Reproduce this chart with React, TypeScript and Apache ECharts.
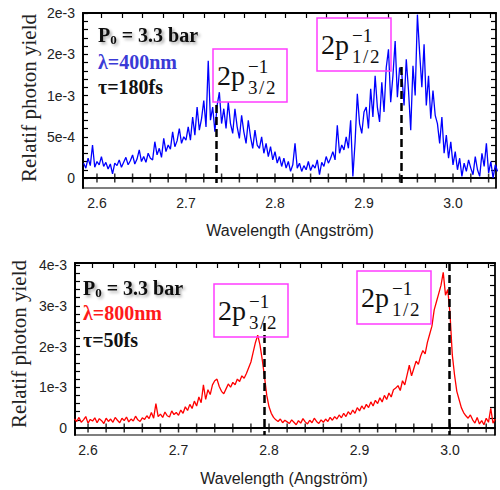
import React, { useEffect, useRef } from 'react';
import * as echarts from 'echarts';

// ---- data (yield values in units of 1e-4) ----
const wavelengthStart = 2.585;
const wavelengthStep = 0.0025;

const blueYield = [
  1.8, 1.2, 2.4, 1.5, 4.0, 1.3, 2.0, 1.6, 2.6, 1.4, 1.9, 1.1, 1.7, 0.5, 1.8,
  1.5, 2.2, 1.3, 1.9, 2.5, 1.6, 2.1, 2.8, 1.7, 2.3, 3.4, 2.0, 2.6, 1.9, 3.0, 2.4,
  2.2, 4.4, 2.8, 3.6, 2.5, 4.8, 3.2, 4.0, 3.5, 5.6, 3.8, 4.5, 6.0, 4.2, 5.0, 4.6,
  6.2, 4.6, 7.4, 5.2, 8.6, 5.8, 7.2, 9.4, 6.2, 14.2, 7.0, 8.6, 5.6, 8.8, 10.4, 6.6,
  8.4, 6.0, 9.2, 6.6, 5.4, 8.4, 6.2, 4.8, 7.6, 5.6, 4.2, 7.0, 5.0, 3.6, 5.8, 4.0,
  3.6, 5.0, 3.0, 4.2, 2.6, 3.8, 2.2, 3.2, 1.8, 2.6, 1.4, 2.4, 1.2, 2.0, 0.8, 1.6,
  4.2, 1.2, 1.8, 0.8, 1.5, 1.0, 2.0, 0.9, 1.6, 1.2, 2.2, 0.4, 1.9, 1.4, 2.6, 1.8,
  2.4, 3.2, 2.2, 6.4, 3.0, 4.0, 3.4, 5.0, 3.6, 7.0, 0.2, 4.4, 10.2, 6.6, 5.4, 8.0,
  8.6, 6.0, 10.8, 7.4, 12.4, 8.6, 6.8, 11.6, 8.0, 13.4, 15.6, 9.2, 12.4, 16.6, 9.8, 13.4,
  12.6, 8.8, 14.4, 10.6, 5.8, 13.6, 10.0, 19.8, 15.2, 11.0, 16.2, 8.8, 12.4, 7.2, 10.6, 7.6,
  6.6, 4.2, 7.4, 3.0, 5.2, 2.4, 4.4, 1.6, 3.2, 1.0, 2.4, 0.2, 1.8, 0.8, 2.2, 1.2,
  0.4, 2.6, 1.0, 0.2, 3.0, 1.4, 4.2, 0.6, 2.0, 0.0, 1.6, 0.8,
];

const redYield = [
  2.2, 1.6, 2.6, 1.4, 2.0, 2.8, 1.2, 2.1, 1.7, 2.5, 1.3, 2.3, 1.8, 1.1, 2.4,
  1.6, 2.2, 1.4, 2.6, 1.9, 1.3, 2.4, 1.8, 2.7, 1.5, 2.2, 1.7, 2.9, 2.0, 1.6, 2.5,
  2.1, 3.0, 2.3, 3.8, 2.4, 6.0, 2.8, 3.4, 2.6, 3.9, 3.0, 2.7, 4.2, 3.3, 3.8, 3.1,
  4.4, 3.6, 5.2, 4.3, 5.8, 4.8, 6.6, 5.4, 7.6, 6.2, 10.6, 7.0, 9.4, 8.2, 10.6, 11.6,
  12.0, 10.2, 9.0, 8.4, 9.6, 10.8, 10.0, 11.2, 10.6, 12.0, 11.4, 12.8, 12.2, 13.4, 14.8, 16.2,
  18.6, 21.0, 22.8, 20.4, 16.8, 12.6, 8.0, 5.2, 3.6, 2.6, 2.0, 1.6, 2.2, 1.3, 1.9, 1.5,
  1.1, 2.0, 1.4, 0.8, 1.8, 1.2, 2.3, 1.5, 1.0, 1.9, 1.3, 2.4, 1.6, 1.1, 2.0, 1.4,
  2.2, 1.6, 2.6, 1.9, 2.8, 2.2, 3.2, 2.5, 3.6, 2.8, 4.0, 3.3, 4.4, 3.6, 5.0, 4.2,
  5.4, 4.6, 5.8, 5.0, 6.4, 5.4, 6.8, 6.0, 7.4, 6.4, 8.0, 7.0, 8.6, 7.6, 9.4, 9.8,
  10.4, 9.2, 11.6, 10.6, 13.0, 15.4, 12.8, 14.6, 16.4, 15.6, 17.6, 19.0, 18.2, 21.0, 23.0, 25.0,
  29.0, 31.0, 33.0, 35.0, 38.2, 32.6, 34.0, 28.0, 18.0, 13.0, 9.0, 7.0, 5.0, 3.8, 3.0, 2.4,
  3.2, 2.0, 1.2, 2.6, 1.0, 1.8, 0.8, 2.4, 1.4, 4.8, 1.2, 2.2,
];

// dashed reference lines (wavelength, top of the dash in yield units)
const blueMarkerX = [2.7337, 2.9424];
const blueMarkerTop = [8.85e-4, 13.45e-4];
const redMarkerX = [2.7945, 2.9989];
const redMarkerTop = [25.8e-4, 40.5e-4];

// axis ticks / labels
const xTickLabels = [2.6, 2.7, 2.8, 2.9, 3.0];
const zeroLineTicks = [2.6, 2.62, 2.64, 2.66, 2.68, 2.7, 2.72, 2.74, 2.76, 2.78, 2.8, 2.82, 2.84, 2.86, 2.88, 2.9, 2.92, 2.94, 2.96, 2.98, 3.0, 3.02, 3.04];
const topFrameTicks = [2.605, 2.628, 2.651, 2.674, 2.697, 2.72, 2.743, 2.766, 2.789, 2.812, 2.835, 2.858, 2.881, 2.904, 2.927, 2.95, 2.973, 2.996, 3.019, 3.042];

const topYTicks = [0, 0.0005, 0.001, 0.0015, 0.002];
const topYTickLabels = ['0', '5e-4', '1e-3', '2e-3', '2e-3'];
const bottomYTicks = [0, 0.001, 0.002, 0.003, 0.004];
const bottomYTickLabels = ['0', '1e-3', '2e-3', '3e-3', '4e-3'];

const topMinorY = Array.from({ length: 21 }, (_, i) => i * 1e-4);
const bottomMinorY = Array.from({ length: 21 }, (_, i) => i * 2e-4);
const bottomRightY = Array.from({ length: 17 }, (_, i) => i * 2.5e-4);

const serif = 'Liberation Serif';
const sans = 'Liberation Sans';

function toPairs(vals: number[]) {
  return vals.map((v, i) => [+(wavelengthStart + i * wavelengthStep).toFixed(4), v * 1e-4]);
}

function labelFmt(ticks: number[], labels: string[]) {
  return (v: number) => {
    for (let i = 0; i < ticks.length; i++) if (Math.abs(v - ticks[i]) < 1e-9) return labels[i];
    return '';
  };
}

function xAxes(grid: number, min: number, max: number) {
  return [
    {
      type: 'value', gridIndex: grid, min, max, position: 'bottom',
      axisLine: { show: true, onZero: true, lineStyle: { color: '#000', width: 2 } },
      axisTick: { show: false },
      axisLabel: {
        show: true, customValues: xTickLabels, formatter: (v: number) => v.toFixed(1),
        margin: 8, color: '#222', fontSize: 14, fontFamily: sans,
      },
      splitLine: { show: false },
    },
    {
      type: 'value', gridIndex: grid, min, max, position: 'top',
      axisLine: { show: true, onZero: false, lineStyle: { color: '#000', width: 2 } },
      axisTick: { show: true, inside: true, length: 5, customValues: topFrameTicks, lineStyle: { color: '#000', width: 1.2 } },
      axisLabel: { show: false },
      splitLine: { show: false },
    },
  ];
}

function yAxes(grid: number, min: number, max: number, minor: number[], right: number[], ticks: number[], labels: string[]) {
  return [
    {
      type: 'value', gridIndex: grid, min, max, position: 'left',
      axisLine: { show: true, onZero: false, lineStyle: { color: '#000', width: 2 } },
      axisTick: { show: true, inside: true, length: 5, customValues: minor, lineStyle: { color: '#000', width: 1.2 } },
      axisLabel: { show: true, customValues: ticks, formatter: labelFmt(ticks, labels), margin: 8, color: '#222', fontSize: 14, fontFamily: sans },
      splitLine: { show: false },
    },
    {
      type: 'value', gridIndex: grid, min, max, position: 'right',
      axisLine: { show: true, onZero: false, lineStyle: { color: '#000', width: 1.5 } },
      axisTick: { show: true, inside: true, length: 5, customValues: right, lineStyle: { color: '#000', width: 1.2 } },
      axisLabel: { show: false },
      splitLine: { show: false },
    },
  ];
}

function markLines(xs: number[], tops: number[], bottom: number) {
  return {
    symbol: ['none', 'none'], silent: true, label: { show: false },
    lineStyle: { color: '#000', width: 2.5, type: [8, 4] },
    data: xs.map((x, i) => [{ coord: [x, tops[i]] }, { coord: [x, bottom] }]),
  };
}

function tickSeries(xi: number, yi: number) {
  return {
    type: 'scatter', xAxisIndex: xi, yAxisIndex: yi, silent: true,
    symbol: 'rect', symbolSize: [1.5, 9], itemStyle: { color: '#000' },
    data: zeroLineTicks.map((v) => [v, 0]), z: 5,
  };
}

const shadow = { textShadowColor: 'rgba(0,0,0,0.35)', textShadowBlur: 3, textShadowOffsetX: 2, textShadowOffsetY: 2 };

function infoBlock(left: number, y: number[], lambda: string, color: string, tau: string) {
  return [
    {
      type: 'text', x: left, y: y[0], z: 100,
      style: {
        text: '{p|P}{s|0}{p| = 3.3 bar}', align: 'left', verticalAlign: 'middle',
        rich: {
          p: { fontSize: 20, fontWeight: 'bold', fontFamily: serif, fill: '#111', lineHeight: 22, ...shadow },
          s: { fontSize: 13, fontWeight: 'bold', fontFamily: serif, fill: '#111', lineHeight: 12, verticalAlign: 'bottom', ...shadow },
        },
      },
    },
    {
      type: 'text', x: left, y: y[1], z: 100,
      style: { text: lambda, align: 'left', verticalAlign: 'middle', fontSize: 20, fontWeight: 'bold', fontFamily: serif, fill: color },
    },
    {
      type: 'text', x: left, y: y[2], z: 100,
      style: { text: tau, align: 'left', verticalAlign: 'middle', fontSize: 20, fontWeight: 'bold', fontFamily: serif, fill: '#111' },
    },
  ];
}

function stateLabel(bx: number, by: number, sub: string) {
  return [
    { type: 'rect', z: 100, shape: { x: bx, y: by, width: 74, height: 53 }, style: { fill: 'none', stroke: '#ff3cff', lineWidth: 1.5 } },
    { type: 'text', z: 100, x: bx + 4, y: by + 26, style: { text: '2p', fontSize: 28, fontFamily: serif, fill: '#111', align: 'left', verticalAlign: 'middle' } },
    { type: 'text', z: 100, x: bx + 35, y: by + 28, style: { text: '\u22121\n' + sub, fontSize: 19, lineHeight: 21, fontFamily: serif, fill: '#111', align: 'left', verticalAlign: 'middle' } },
  ];
}

const topY = { min: -1.21e-4, max: 2.0e-3 };
const botY = { min: -1.72e-4, max: 4.05e-3 };

const option: any = {
  animation: false,
  backgroundColor: '#fff',
  grid: [
    { left: 83, top: 13, width: 413, height: 175, show: true, borderColor: '#000', borderWidth: 1.2, backgroundColor: 'transparent' },
    { left: 75, top: 263, width: 420, height: 172, show: true, borderColor: '#000', borderWidth: 1.2, backgroundColor: 'transparent' },
  ],
  xAxis: [...xAxes(0, 2.5843, 3.0483), ...xAxes(1, 2.5856, 3.0497)],
  yAxis: [
    ...yAxes(0, topY.min, topY.max, topMinorY, topMinorY, topYTicks, topYTickLabels),
    ...yAxes(1, botY.min, botY.max, bottomMinorY, bottomRightY, bottomYTicks, bottomYTickLabels),
  ],
  series: [
    {
      type: 'line', xAxisIndex: 0, yAxisIndex: 0, data: toPairs(blueYield), showSymbol: false, symbol: 'none',
      lineStyle: { color: '#0000ff', width: 1.3 }, z: 3, clip: true,
      markLine: markLines(blueMarkerX, blueMarkerTop, -0.6e-4),
    },
    tickSeries(0, 0),
    {
      type: 'line', xAxisIndex: 2, yAxisIndex: 2, data: toPairs(redYield), showSymbol: false, symbol: 'none',
      lineStyle: { color: '#ff0000', width: 1.3 }, z: 3, clip: true,
      markLine: markLines(redMarkerX, redMarkerTop, -1.7e-4),
    },
    tickSeries(2, 2),
  ],
  graphic: [
    ...infoBlock(98, [35, 62, 87], '\u03bb=400nm', '#3a3ad6', '\u03c4=180fs'),
    ...infoBlock(83, [288, 313, 340], '\u03bb=800nm', '#ff1a1a', '\u03c4=50fs'),
    ...stateLabel(213, 49, '3\u200a/\u200a2'),
    ...stateLabel(317, 18, '1\u200a/\u200a2'),
    ...stateLabel(214, 284, '3\u200a/\u200a2'),
    ...stateLabel(357, 271, '1\u200a/\u200a2'),
    {
      type: 'text', x: 29, y: 98, rotation: Math.PI / 2, z: 100,
      style: { text: 'Relatif photon yield', align: 'center', verticalAlign: 'middle', fontSize: 21, fontFamily: serif, fill: '#222' },
    },
    {
      type: 'text', x: 19, y: 344, rotation: Math.PI / 2, z: 100,
      style: { text: 'Relatif photon yield', align: 'center', verticalAlign: 'middle', fontSize: 21, fontFamily: serif, fill: '#222' },
    },
    {
      type: 'text', x: 290, y: 230, z: 100,
      style: { text: 'Wavelength (Angstr\u00f6m)', align: 'center', verticalAlign: 'middle', fontSize: 16, fontFamily: sans, fill: '#222' },
    },
    {
      type: 'text', x: 284, y: 478, z: 100,
      style: { text: 'Wavelength (Angstr\u00f6m)', align: 'center', verticalAlign: 'middle', fontSize: 16, fontFamily: sans, fill: '#222' },
    },
  ],
};

export default function App() {
  const ref = useRef<HTMLDivElement>(null);
  useEffect(() => {
    if (!ref.current) return;
    const chart = echarts.init(ref.current, null, { renderer: 'svg' });
    chart.setOption(option);
    return () => chart.dispose();
  }, []);
  return (
    <div
      ref={ref}
      style={{ position: 'absolute', left: 0, top: 0, width: 500, height: 490, background: '#fff' }}
    />
  );
}
